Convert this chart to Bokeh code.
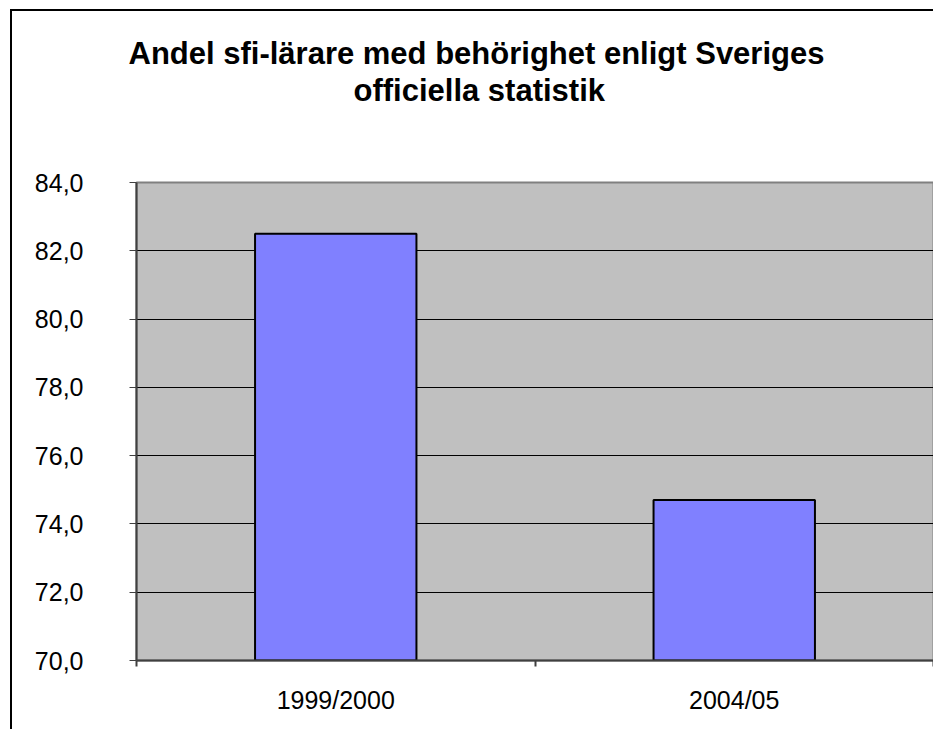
from bokeh.plotting import figure
from bokeh.models import FixedTicker, Title, Range1d
from bokeh.embed import file_html
from bokeh.resources import INLINE

# ---- data ----
categories = ["1999/2000", "2004/05"]
values = [82.5, 74.7]
y_ticks = [70, 72, 74, 76, 78, 80, 82, 84]
y_tick_labels = ["70,0", "72,0", "74,0", "76,0", "78,0", "80,0", "82,0", "84,0"]
title_lines = ["Andel sfi-lärare med behörighet enligt Sveriges", "officiella statistik"]

FONT = "Liberation Sans"

x_pos = [i + 0.5 for i in range(len(categories))]
boundaries = [i for i in range(len(categories) + 1)]

p = figure(width=923, height=720, output_backend="svg", toolbar_location=None,
           x_range=Range1d(0, len(categories)), y_range=Range1d(y_ticks[0], y_ticks[-1]),
           min_border_left=124, min_border_right=2, min_border_top=171, min_border_bottom=71,
           title=None)

p.styles = {"border-left": "2px solid black", "border-top": "2px solid black",
            "margin-left": "10px", "margin-top": "9px"}

p.background_fill_color = "#C0C0C0"
p.border_fill_color = "white"
p.outline_line_color = "#808080"
p.outline_line_width = 2

p.vbar(x=x_pos, top=values, bottom=y_ticks[0], width=0.405,
       fill_color="#8080FF", line_color="black", line_width=2)

# grid
p.xgrid.visible = False
p.ygrid.ticker = FixedTicker(ticks=y_ticks)
p.ygrid.grid_line_color = "black"
p.ygrid.grid_line_width = 1

# y axis
p.yaxis.ticker = FixedTicker(ticks=y_ticks)
p.yaxis.major_label_overrides = {t: l for t, l in zip(y_ticks, y_tick_labels)}
p.yaxis.major_label_text_font = FONT
p.yaxis.major_label_text_font_size = "25px"
p.yaxis.major_label_text_color = "black"
p.yaxis.major_label_standoff = 46
p.yaxis.axis_line_color = "#404040"
p.yaxis.axis_line_width = 2
p.yaxis.major_tick_line_color = "#404040"
p.yaxis.major_tick_out = 7
p.yaxis.major_tick_in = 0
p.yaxis.minor_tick_out = 0
p.yaxis.minor_tick_in = 0

# x axis
p.xaxis.ticker = FixedTicker(ticks=x_pos, minor_ticks=boundaries)
p.xaxis.major_label_overrides = {x: c for x, c in zip(x_pos, categories)}
p.xaxis.major_label_text_font = FONT
p.xaxis.major_label_text_font_size = "25px"
p.xaxis.major_label_text_color = "black"
p.xaxis.major_label_standoff = 19
p.xaxis.axis_line_color = "#404040"
p.xaxis.axis_line_width = 2
p.xaxis.major_tick_out = 0
p.xaxis.major_tick_in = 0
p.xaxis.minor_tick_out = 6
p.xaxis.minor_tick_in = 0
p.xaxis.minor_tick_line_color = "#404040"
p.xaxis.minor_tick_line_width = 2

# title: spacer (closest to the plot), then line 2, then line 1
spacer = Title(text=" ", text_font=FONT, text_font_size="31px", standoff=38)
t2 = Title(text=title_lines[1], align="left", offset=217, text_font=FONT,
           text_font_size="31px", text_font_style="bold", text_color="black", standoff=0)
t1 = Title(text=title_lines[0], align="left", offset=-8, text_font=FONT,
           text_font_size="31px", text_font_style="bold", text_color="black", standoff=0)
p.add_layout(spacer, "above")
p.add_layout(t2, "above")
p.add_layout(t1, "above")

open("out.html", "w").write(file_html(p, INLINE))
